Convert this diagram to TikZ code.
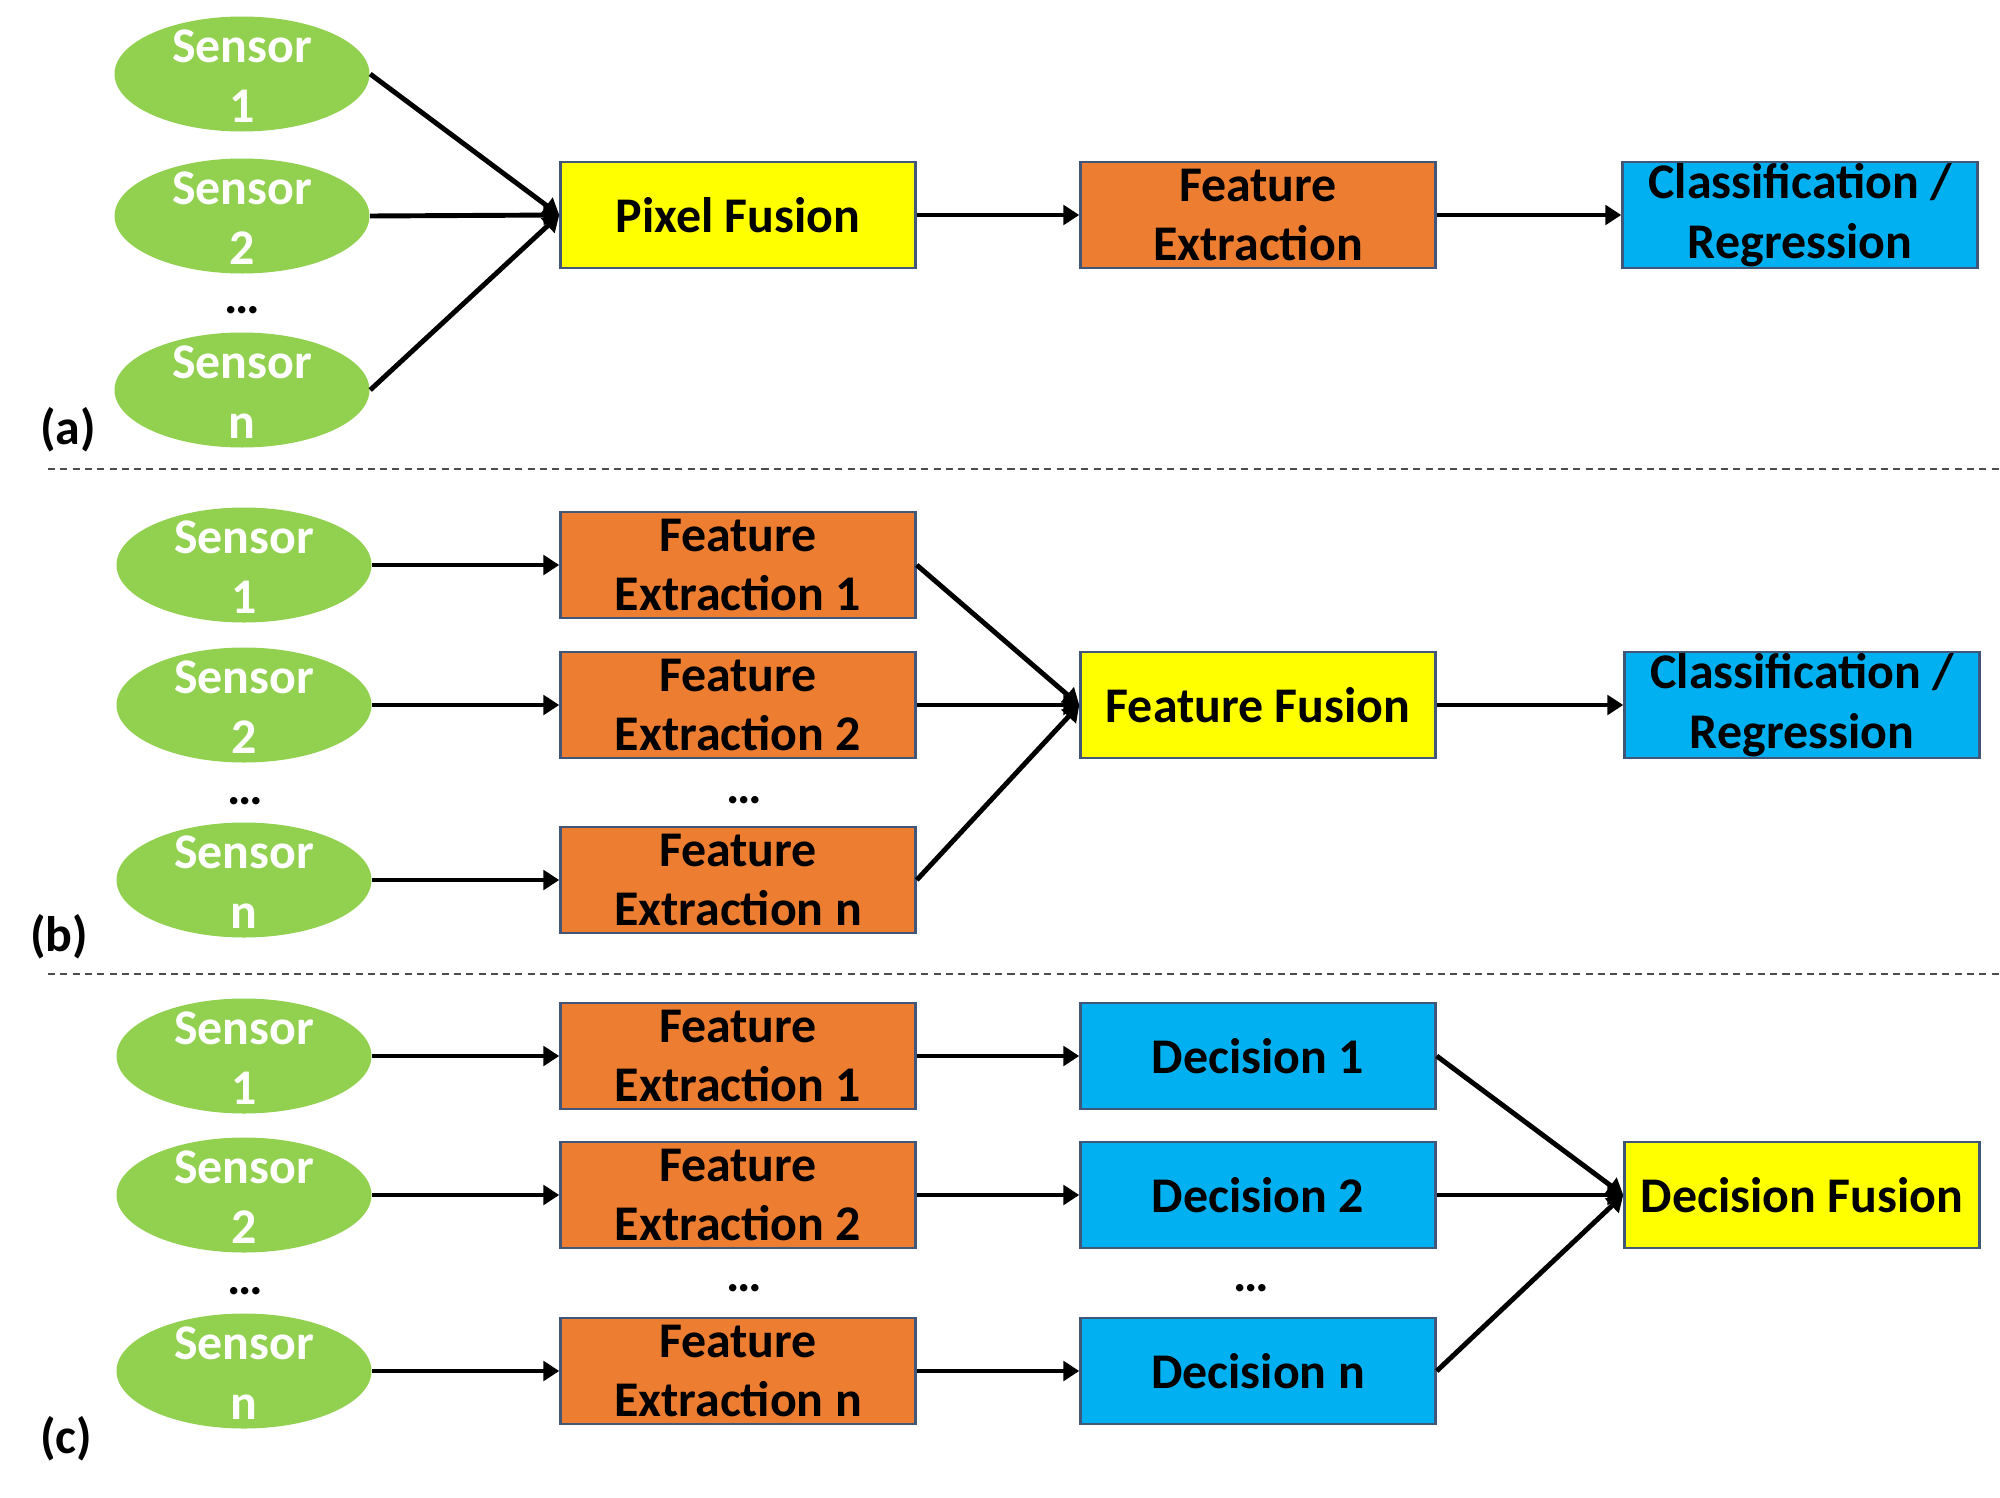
\documentclass[tikz,border=0pt]{standalone}
\usepackage{fontspec}
\setmainfont{Carlito}
\usetikzlibrary{shapes.geometric,arrows.meta}
\definecolor{sensorgreen}{HTML}{92D050}
\definecolor{fusionyellow}{HTML}{FFFF00}
\definecolor{extractorange}{HTML}{ED7D31}
\definecolor{decisionblue}{HTML}{00B0F0}
\definecolor{boxedge}{HTML}{41577A}
\begin{document}
\begin{tikzpicture}[x=1cm, y=-1cm, font=\bfseries\fontsize{14.2}{17}\selectfont,
	sensor/.style={ellipse, fill=sensorgreen, minimum width=2.55cm, minimum height=1.15cm, inner sep=0pt,
		label={[text=white, align=center, yshift=-.6pt]center:Sensor\\#1}},
	block/.style={draw=boxedge, line width=.7pt, minimum width=3.55cm, minimum height=1.06cm, inner sep=0pt, align=center},
	fusion/.style={block, fill=fusionyellow},
	extract/.style={block, fill=extractorange},
	decide/.style={block, fill=decisionblue},
	flow/.style={-{Triangle[length=4.5pt,width=5.5pt]}, line width=1.4pt},
	sep/.style={draw=black!70, line width=.5pt, dash pattern=on 2pt off 1.5pt}]
	\useasboundingbox (0,0) rectangle (20,14.98);
	% (a) pixel level
	\node[sensor=1] (a1) at (2.42,.74)  {};
	\node[sensor=2] (a2) at (2.42,2.16) {};
	\node[sensor=n] (an) at (2.42,3.90) {};
	\node (adots) at (2.42,3.10) {…};
	\node[fusion]  (apf) at (7.38,2.15)  {Pixel Fusion};
	\node[extract] (afe) at (12.58,2.15) {Feature\\Extraction};
	\node[decide]  (acr) at (18.00,2.15) {Classification /\\Regression};
	\node (alab) at (.68,4.30) {(a)};
	\draw[flow] (a1.east) -- (apf.west);
	\draw[flow] (a2.east) -- (apf.west);
	\draw[flow] (an.east) -- (apf.west);
	\draw[flow] (apf) -- (afe);
	\draw[flow] (afe) -- (acr);
	\draw[sep] (.48,4.69) -- (20,4.69);
	% (b) feature level
	\node[sensor=1] (b1) at (2.44,5.65) {};
	\node[sensor=2] (b2) at (2.44,7.05) {};
	\node[sensor=n] (bn) at (2.44,8.80) {};
	\node (bdots) at (2.45,8.01) {…};
	\node[extract] (bfe1) at (7.38,5.65) {Feature\\Extraction 1};
	\node[extract] (bfe2) at (7.38,7.05) {Feature\\Extraction 2};
	\node[extract] (bfen) at (7.38,8.80) {Feature\\Extraction n};
	\node (bfedots) at (7.44,8.00) {…};
	\node[fusion] (bff) at (12.58,7.05) {Feature Fusion};
	\node[decide] (bcr) at (18.02,7.05) {Classification /\\Regression};
	\node (blab) at (.59,9.37) {(b)};
	\draw[flow] (b1) -- (bfe1);
	\draw[flow] (b2) -- (bfe2);
	\draw[flow] (bn) -- (bfen);
	\draw[flow] (bfe1.east) -- (bff.west);
	\draw[flow] (bfe2.east) -- (bff.west);
	\draw[flow] (bfen.east) -- (bff.west);
	\draw[flow] (bff) -- (bcr);
	\draw[sep] (.48,9.74) -- (20,9.74);
	% (c) decision level
	\node[sensor=1] (c1) at (2.44,10.56) {};
	\node[sensor=2] (c2) at (2.44,11.95) {};
	\node[sensor=n] (cn) at (2.44,13.71) {};
	\node (cdots) at (2.45,12.91) {…};
	\node[extract] (cfe1) at (7.38,10.56) {Feature\\Extraction 1};
	\node[extract] (cfe2) at (7.38,11.95) {Feature\\Extraction 2};
	\node[extract] (cfen) at (7.38,13.71) {Feature\\Extraction n};
	\node (cfedots) at (7.44,12.88) {…};
	\node[decide] (cd1) at (12.58,10.56) {Decision 1};
	\node[decide] (cd2) at (12.58,11.95) {Decision 2};
	\node[decide] (cdn) at (12.58,13.71) {Decision n};
	\node (cddots) at (12.51,12.88) {…};
	\node[fusion] (cdf) at (18.02,11.95) {Decision Fusion};
	\node (clab) at (.66,14.39) {(c)};
	\draw[flow] (c1) -- (cfe1);
	\draw[flow] (c2) -- (cfe2);
	\draw[flow] (cn) -- (cfen);
	\draw[flow] (cfe1) -- (cd1);
	\draw[flow] (cfe2) -- (cd2);
	\draw[flow] (cfen) -- (cdn);
	\draw[flow] (cd1.east) -- (cdf.west);
	\draw[flow] (cd2.east) -- (cdf.west);
	\draw[flow] (cdn.east) -- (cdf.west);
\end{tikzpicture}
\end{document}
